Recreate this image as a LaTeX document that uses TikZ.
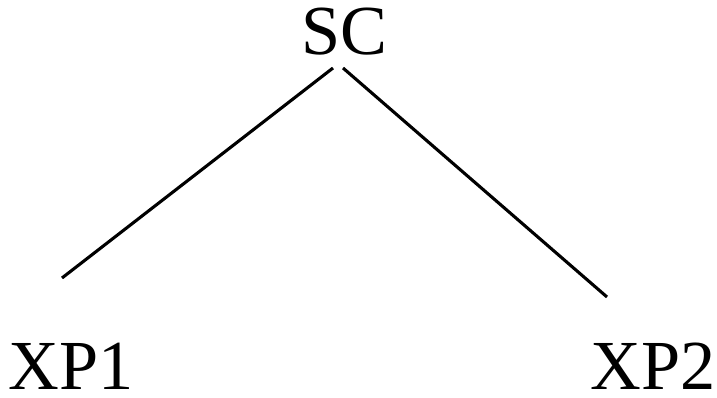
\documentclass[tikz,border=0pt]{standalone}
\usepackage{fontspec}
\setmainfont{Liberation Serif}
\usetikzlibrary{calc}

\begin{document}
\begin{tikzpicture}[x=0.025cm, y=-0.025cm,
    label/.style={anchor=base, inner sep=0pt, font=\fontsize{50}{60}\selectfont},
    branch/.style={line width=2.2pt}
]
    \useasboundingbox (0,0) rectangle (717,398);
    \node[label] (sc) at (344,55) {SC};
    \node[label] (xp1) at (71,390) {XP1};
    \node[label] (xp2) at (653,390) {XP2};

    \draw[branch] ($(sc.base)+(-11,13)$) -- ($(xp1.base)+(-9,-112)$);
    \draw[branch] ($(sc.base)+(-1,13)$) -- ($(xp2.base)+(-46,-93)$);
\end{tikzpicture}
\end{document}
